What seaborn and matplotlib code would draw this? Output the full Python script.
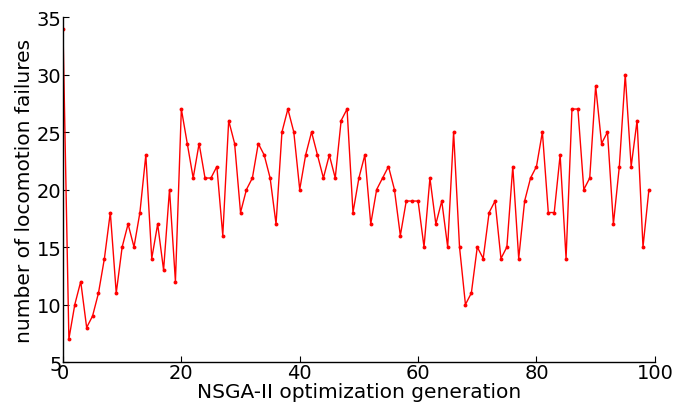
import numpy as np
import pandas as pd
import matplotlib
matplotlib.use("Agg")
import matplotlib.pyplot as plt
import seaborn as sns

# Failures counted per NSGA-II generation (0..99)
generations = list(range(100))
failures = [
    34, 7, 10, 12, 8, 9, 11, 14, 18, 11,
    15, 17, 15, 18, 23, 14, 17, 13, 20, 12,
    27, 24, 21, 24, 21, 21, 22, 16, 26, 24,
    18, 20, 21, 24, 23, 21, 17, 25, 27, 25,
    20, 23, 25, 23, 21, 23, 21, 26, 27, 18,
    21, 23, 17, 20, 21, 22, 20, 16, 19, 19,
    19, 15, 21, 17, 19, 15, 25, 15, 10, 11,
    15, 14, 18, 19, 14, 15, 22, 14, 19, 21,
    22, 25, 18, 18, 23, 14, 27, 27, 20, 21,
    29, 24, 25, 17, 22, 30, 22, 26, 15, 20,
]
x_ticks = [0, 20, 40, 60, 80, 100]
y_ticks = [5, 10, 15, 20, 25, 30, 35]

df = pd.DataFrame({"generation": generations, "failures": failures})

sns.set_style("white")
plt.rcParams["font.family"] = ["DejaVu Sans"]
plt.rcParams["text.color"] = "black"
plt.rcParams["axes.labelcolor"] = "black"

fig = plt.figure(figsize=(6.8, 4.1), dpi=100)
ax = fig.add_axes([0.0926, 0.1146, 0.8704, 0.8414])

sns.lineplot(data=df, x="generation", y="failures", ax=ax, color="red",
             linewidth=1.0, marker="o", markersize=2.8, markeredgewidth=0)

ax.set_xlim(0, 100)
ax.set_ylim(5, 35)
ax.set_xticks(x_ticks)
ax.set_yticks(y_ticks)
ax.set_xlabel("NSGA-II optimization generation", fontsize=14.5,
              labelpad=0, color="black")
ax.set_ylabel("number of locomotion failures", fontsize=14.5,
              labelpad=2, color="black")

for side in ("top", "right"):
    ax.spines[side].set_visible(False)
for side in ("left", "bottom"):
    ax.spines[side].set_color("black")
    ax.spines[side].set_linewidth(1.0)

ax.tick_params(axis="both", which="major", direction="in", length=4,
               width=0.8, labelsize=14, pad=1, colors="black",
               top=False, right=False, left=True, bottom=True)

fig.savefig("out.png", dpi=100, facecolor="white")
